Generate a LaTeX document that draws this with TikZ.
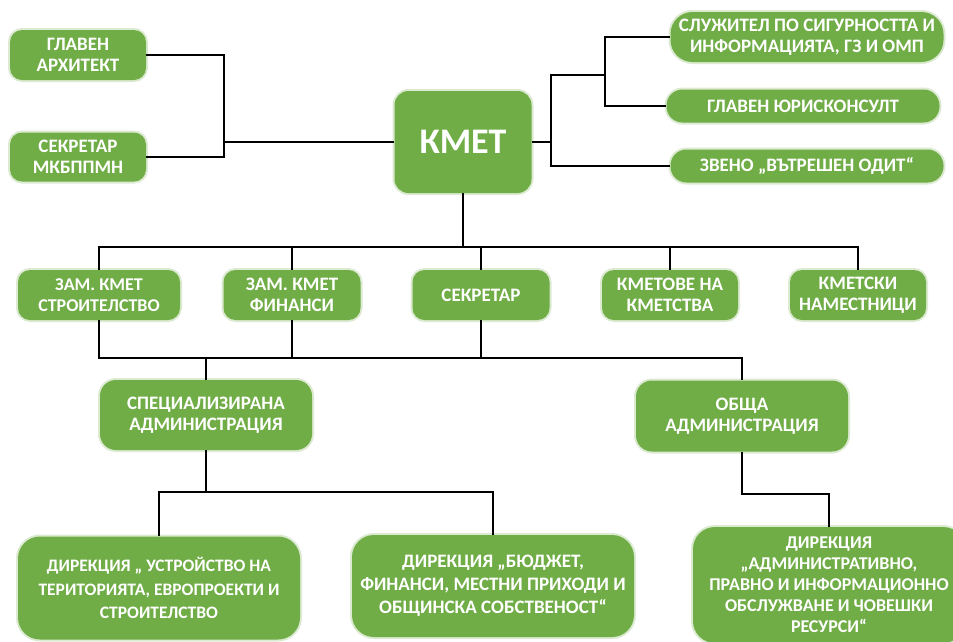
\documentclass[tikz,border=0pt]{standalone}
\usepackage{fontspec}
\setmainfont{Carlito}
\usepackage{tikz}
\usetikzlibrary{positioning, calc}
\definecolor{orgGreen}{RGB}{112, 173, 71}

\begin{document}
\begin{tikzpicture}[
    x=1pt, y=-1pt,
    unit/.style={
        rectangle,
        fill=orgGreen,
        preaction={draw=orgGreen!25, line width=4pt},
        text=white,
        font=\bfseries\fontsize{19}{21.5}\selectfont,
        align=center,
        inner sep=0pt,
        rounded corners=#1
    },
    unit/.default=12pt,
    small/.style={font=\bfseries\fontsize{18}{21}\selectfont},
    link/.style={draw=black, line width=2.2pt}
]
    \useasboundingbox (0,0) rectangle (953,641);
    \clip (0,0) rectangle (953,641);
    \fill[white] (0,0) rectangle (953,641);

    % Top: mayor and staff
    \node[unit=14pt, minimum width=137pt, minimum height=102pt,
          font=\bfseries\fontsize{36}{40}\selectfont] (mayor) at (463,142) {КМЕТ};
    \node[unit, minimum width=136pt, minimum height=50pt] (arch) at (78,55) {ГЛАВЕН\\АРХИТЕКТ};
    \node[unit, minimum width=136pt, minimum height=49pt] (secm) at (78,157) {СЕКРЕТАР\\МКБППМН};
    \node[unit=22pt, minimum width=273pt, minimum height=50pt] (secur) at (807,37) {СЛУЖИТЕЛ ПО СИГУРНОСТТА И\\ИНФОРМАЦИЯТА, ГЗ И ОМП};
    \node[unit=16pt, minimum width=273pt, minimum height=33pt] (legal) at (803,106) {ГЛАВЕН ЮРИСКОНСУЛТ};
    \node[unit=16pt, minimum width=273pt, minimum height=33pt] (audit) at (807,166) {ЗВЕНО „ВЪТРЕШЕН ОДИТ“};

    % Row 2: deputies
    \node[unit, small, minimum width=162pt, minimum height=50pt] (depb) at (99,295) {ЗАМ. КМЕТ\\СТРОИТЕЛСТВО};
    \node[unit, minimum width=137pt, minimum height=50pt] (depf) at (292,295) {ЗАМ. КМЕТ\\ФИНАНСИ};
    \node[unit, minimum width=137pt, minimum height=50pt] (secr) at (481,295) {СЕКРЕТАР};
    \node[unit, minimum width=136pt, minimum height=50pt] (vill) at (670,295) {КМЕТОВЕ НА\\КМЕТСТВА};
    \node[unit, minimum width=136pt, minimum height=50pt] (depu) at (858,295) {КМЕТСКИ\\НАМЕСТНИЦИ};

    % Row 3: administrations
    \node[unit=16pt, minimum width=212pt, minimum height=70pt] (spec) at (206,415) {СПЕЦИАЛИЗИРАНА\\АДМИНИСТРАЦИЯ};
    \node[unit=16pt, minimum width=212pt, minimum height=71pt] (gen) at (742,416) {ОБЩА\\АДМИНИСТРАЦИЯ};

    % Row 4: directorates
    \node[unit=22pt, minimum width=282pt, minimum height=103pt,
          font=\bfseries\fontsize{17.5}{23.5}\selectfont] (dir1) at (159,588) {ДИРЕКЦИЯ „ УСТРОЙСТВО НА\\ТЕРИТОРИЯТА, ЕВРОПРОЕКТИ И\\СТРОИТЕЛСТВО};
    \node[unit=22pt, minimum width=282pt, minimum height=102pt,
          font=\bfseries\fontsize{19}{23}\selectfont] (dir2) at (493,586) {ДИРЕКЦИЯ „БЮДЖЕТ,\\ФИНАНСИ, МЕСТНИ ПРИХОДИ И\\ОБЩИНСКА СОБСТВЕНОСТ“};
    \node[unit=22pt, small, minimum width=272pt, minimum height=116pt] (dir3) at (829,585) {ДИРЕКЦИЯ\\„АДМИНИСТРАТИВНО,\\ПРАВНО И ИНФОРМАЦИОННО\\ОБСЛУЖВАНЕ И ЧОВЕШКИ\\РЕСУРСИ“};

    % Connections
    \coordinate (lj) at (224,142);
    \draw[link] (arch.east) -| (lj);
    \draw[link] (secm.east) -| (lj);
    \draw[link] (lj) -- (mayor.west);

    \coordinate (rj) at (551,142);
    \coordinate (rk) at (605,75);
    \draw[link] (mayor.east) -- (rj);
    \draw[link] (rj) |- (rk);
    \draw[link] (rj) |- (audit.west);
    \draw[link] (rk) |- (secur.west);
    \draw[link] (rk) |- (legal.west);

    \coordinate (bus) at (463,247);
    \draw[link] (mayor.south) -- (bus);
    \draw[link] (depb.north) |- (bus) -| (depu.north);
    \foreach \unitname in {depf, secr, vill} {
        \draw[link] (\unitname.north) -- (\unitname.north |- bus);
    }

    \coordinate (lbus) at (742,358);
    \draw[link] (depb.south) |- (lbus) -- (gen.north);
    \foreach \unitname in {depf, secr} {
        \draw[link] (\unitname.south) -- (\unitname.south |- lbus);
    }
    \draw[link] (spec.north) -- (spec.north |- lbus);

    \coordinate (sbus) at (206,492);
    \draw[link] (spec.south) -- (sbus);
    \draw[link] (dir1.north) |- (dir2.north |- sbus) -- (dir2.north);
    \draw[link] (gen.south) -- ++(0,42) -| (dir3.north);

\end{tikzpicture}
\end{document}
